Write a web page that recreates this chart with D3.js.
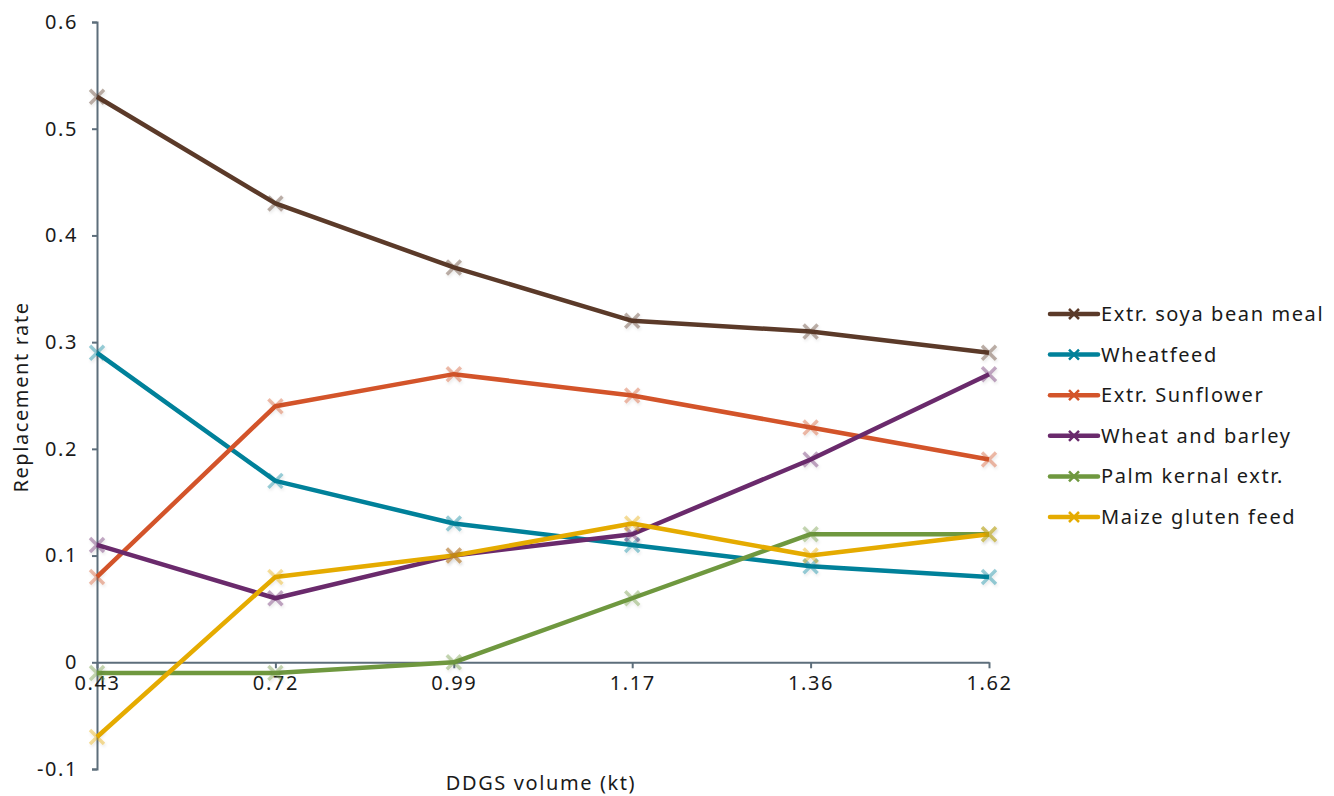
<!DOCTYPE html>
<html><head><meta charset="utf-8">
<script src="https://cdn.jsdelivr.net/npm/d3@7"></script>
<style>
body{margin:0;background:#fff;}
text{font-family:"Noto Sans",sans-serif;fill:#1a1a1a;letter-spacing:1.6px;}
</style></head>
<body><svg id="c" width="1334" height="796"></svg>
<script>
const categories = ["0.43","0.72","0.99","1.17","1.36","1.62"];
const seriesNames = ["Extr. soya bean meal","Wheatfeed","Extr. Sunflower","Wheat and barley","Palm kernal extr.","Maize gluten feed"];
const soya = [0.53,0.43,0.37,0.32,0.31,0.29];
const wheatfeed = [0.29,0.17,0.13,0.11,0.09,0.08];
const sunflower = [0.08,0.24,0.27,0.25,0.22,0.19];
const wheatBarley = [0.11,0.06,0.10,0.12,0.19,0.27];
const palm = [-0.01,-0.01,0.00,0.06,0.12,0.12];
const maize = [-0.07,0.08,0.10,0.13,0.10,0.12];
const yTicks = [-0.1,0,0.1,0.2,0.3,0.4,0.5,0.6];
const colors = ["#5b3a29","#00819a","#d3542a","#6a2a6c","#6f983f","#e5ab00"];

const seriesValues = [soya,wheatfeed,sunflower,wheatBarley,palm,maize];
const svg = d3.select("#c");
const x = d3.scalePoint().domain(categories).range([97,989]).padding(0);
const y = d3.scaleLinear().domain([-0.1,0.6]).range([769,22]);
const axisColor = "#5d6e7b";

const defs = svg.append("defs");
const f = defs.append("filter").attr("id","sh").attr("x","-50%").attr("y","-50%").attr("width","200%").attr("height","200%");
f.append("feGaussianBlur").attr("in","SourceGraphic").attr("stdDeviation",0.6).attr("result","b");
f.append("feDropShadow").attr("in","b").attr("dx",1).attr("dy",2).attr("stdDeviation",1.5).attr("flood-color","#000").attr("flood-opacity",0.2);

// y axis
const yAx = svg.append("g").attr("transform","translate(97,0)")
  .call(d3.axisLeft(y).tickValues(yTicks).tickSize(5).tickPadding(14)
    .tickFormat(d=>String(+d.toFixed(1))));
yAx.selectAll("path,line").attr("stroke",axisColor).attr("stroke-width",2);
yAx.selectAll("text").attr("font-size",20).attr("font-family","Noto Sans").attr("fill","#1a1a1a");

// x axis at zero
const xAx = svg.append("g").attr("transform",`translate(0,${y(0)})`)
  .call(d3.axisBottom(x).tickSize(6).tickSizeOuter(0).tickPadding(8));
xAx.selectAll("path,line").attr("stroke",axisColor).attr("stroke-width",2);
xAx.selectAll("text").attr("font-size",20).attr("font-family","Noto Sans").attr("fill","#1a1a1a");

// lines
const line = d3.line().x((d,i)=>x(categories[i])).y(d=>y(d));
const markerPath = s => `M${-s},${-s}L${s},${s}M${-s},${s}L${s},${-s}`;
seriesValues.forEach((vals,k)=>{
  svg.append("path").datum(vals).attr("d",line).attr("fill","none")
    .attr("stroke",colors[k]).attr("stroke-width",4.5).attr("stroke-linejoin","round");
});
seriesValues.forEach((vals,k)=>{
  svg.append("g").selectAll("path").data(vals).join("path")
    .attr("transform",(d,i)=>`translate(${x(categories[i])},${y(d)})`)
    .attr("d",markerPath(7)).attr("stroke",colors[k]).attr("stroke-opacity",0.4)
    .attr("stroke-width",3.5).attr("fill","none").attr("filter","url(#sh)");
});

// axis titles
svg.append("text").attr("transform","translate(28,397) rotate(-90)").attr("text-anchor","middle")
  .attr("font-size",20).text("Replacement rate");
svg.append("text").attr("x",541).attr("y",790).attr("text-anchor","middle")
  .attr("font-size",20).text("DDGS volume (kt)");

// legend
const lg = svg.append("g");
seriesNames.forEach((n,k)=>{
  const yy = 314 + k*40.6;
  lg.append("line").attr("x1",1050).attr("x2",1098).attr("y1",yy).attr("y2",yy)
    .attr("stroke",colors[k]).attr("stroke-width",4.5).attr("stroke-linecap","round");
  lg.append("path").attr("transform",`translate(1074,${yy})`).attr("d",markerPath(5))
    .attr("stroke",colors[k]).attr("stroke-width",2.5);
  lg.append("text").attr("x",1101).attr("y",yy).attr("dy","0.35em").attr("font-size",20).text(n);
});
</script></body></html>
